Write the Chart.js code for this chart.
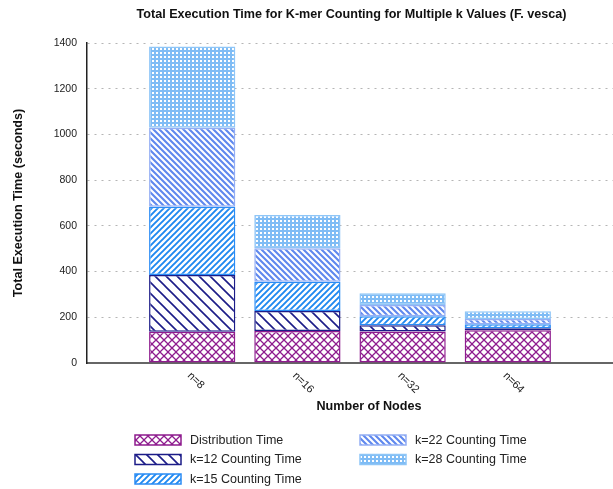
<!DOCTYPE html>
<html>
<head>
<meta charset="utf-8">
<title>K-mer counting time</title>
<script src="https://cdn.jsdelivr.net/npm/chart.js@4.4.1/dist/chart.umd.min.js"></script>
<style>
  body { margin: 0; background: #fff; }
  #wrap { width: 613px; height: 489px; }
</style>
</head>
<body>
<div id="wrap"><canvas id="myChart" width="613" height="489"></canvas></div>
<script>
// data
const nodes = ["n=8", "n=16", "n=32", "n=64"];
const distTime = [137, 140, 138, 143];
const k12Time = [248, 87, 27, 9];
const k15Time = [299, 129, 39, 17];
const k22Time = [345, 146, 50, 24];
const k28Time = [356, 145, 51, 33];
const yTicks = [0, 200, 400, 600, 800, 1000, 1200, 1400];

const seriesNames = ["Distribution Time", "k=12 Counting Time", "k=15 Counting Time", "k=22 Counting Time", "k=28 Counting Time"];

const FONT = "'Liberation Sans', Arial, sans-serif";
const ctx = document.getElementById('myChart');
const c2d = ctx.getContext('2d');

// small tiles for the hatch fills
function makeTile(size, draw){
  const t = document.createElement('canvas');
  t.width = size; t.height = size;
  const g = t.getContext('2d');
  g.fillStyle = '#fff';
  g.fillRect(0, 0, size, size);
  draw(g, size);
  return c2d.createPattern(t, 'repeat');
}

function slashTile(color, size, lw, back){
  return makeTile(size, (g, s) => {
    g.strokeStyle = color;
    g.lineWidth = lw;
    g.beginPath();
    if (back) {
      g.moveTo(-1, -1); g.lineTo(s + 1, s + 1);
      g.moveTo(-1, s - 1); g.lineTo(1, s + 1);
      g.moveTo(s - 1, -1); g.lineTo(s + 1, 1);
    } else {
      g.moveTo(-1, s + 1); g.lineTo(s + 1, -1);
      g.moveTo(-1, 1); g.lineTo(1, -1);
      g.moveTo(s - 1, s + 1); g.lineTo(s + 1, s - 1);
    }
    g.stroke();
  });
}

const crossFill = makeTile(8, (g, s) => {
  g.strokeStyle = '#8e1c8e';
  g.lineWidth = 1.3;
  g.beginPath();
  g.moveTo(-1, -1); g.lineTo(s + 1, s + 1);
  g.moveTo(-1, s + 1); g.lineTo(s + 1, -1);
  g.stroke();
});
const k12Fill = slashTile('#1c1c88', 11, 1.6, true);
const k15Fill = slashTile('#1e88f0', 6, 1.9, false);
const k22Fill = slashTile('#5f88ee', 6, 2.1, true);
const k28Fill = makeTile(4, (g, s) => {
  g.fillStyle = '#7fbcf5';
  g.fillRect(0, 0, s, s);
  g.fillStyle = '#fff';
  g.fillRect(0, 0, 2, 2);
});

const fills = [crossFill, k12Fill, k15Fill, k22Fill, k28Fill];
const borders = ['#8e1c8e', '#1c1c88', '#2a8cf5', '#94aef4', '#8fc6f7'];
const values = [distTime, k12Time, k15Time, k22Time, k28Time];

// one empty slot each side, like the reference axis
const labels = [''].concat(nodes, ['']);
function pad(arr){ return [null].concat(arr, [null]); }

const datasets = values.map((v, i) => ({
  label: seriesNames[i],
  data: pad(v),
  backgroundColor: fills[i],
  borderColor: borders[i],
  borderWidth: 1.5,
  borderSkipped: false,
  categoryPercentage: 1,
  barPercentage: 0.82
}));

const extras = {
  id: 'extras',
  afterDraw(chart){
    const g = chart.ctx;
    const area = chart.chartArea;
    const xs = chart.scales.x;
    g.save();
    // title
    g.fillStyle = '#111';
    g.font = 'bold 12.6px ' + FONT;
    g.textAlign = 'center';
    g.textBaseline = 'middle';
    g.fillText('Total Execution Time for K-mer Counting for Multiple k Values (F. vesca)', 351.5, 15);
    // x title
    g.fillText('Number of Nodes', 369, 407);
    // rotated tick labels
    g.font = '11px ' + FONT;
    g.fillStyle = '#222';
    g.textAlign = 'left';
    nodes.forEach((n, i) => {
      const x = xs.getPixelForValue(i + 1);
      g.save();
      g.translate(x - 3, area.bottom + 11);
      g.rotate(Math.PI / 4);
      g.fillText(n, 0, 0);
      g.restore();
    });
    // legend, two columns
    const colX = [135, 360];
    const rowY = [435, 454.5, 474];
    g.font = '12.5px ' + FONT;
    g.textBaseline = 'middle';
    seriesNames.forEach((name, i) => {
      const x = colX[Math.floor(i / 3)];
      const y = rowY[i % 3];
      g.fillStyle = fills[i];
      g.fillRect(x, y, 46, 10);
      g.strokeStyle = borders[i];
      g.lineWidth = 1.5;
      g.strokeRect(x, y, 46, 10);
      g.fillStyle = '#222';
      g.fillText(name, x + 55, y + 5.5);
    });
    g.restore();
  }
};

new Chart(ctx, {
  type: 'bar',
  data: { labels: labels, datasets: datasets },
  options: {
    responsive: false,
    animation: false,
    layout: { padding: { top: 43, left: 4, right: 0, bottom: 0 } },
    plugins: {
      legend: { display: false },
      title: { display: false },
      tooltip: { enabled: false }
    },
    scales: {
      x: {
        stacked: true,
        offset: false,
        grid: { display: false, drawTicks: false },
        border: { display: true, color: '#666', width: 2 },
        ticks: { display: false },
        afterFit(scale){ scale.height = 126; }
      },
      y: {
        stacked: true,
        min: 0,
        max: 1400,
        afterBuildTicks(scale){ scale.ticks = yTicks.map(v => ({ value: v })); },
        grid: { color: '#b5b5b5', lineWidth: 1, drawTicks: false },
        border: { display: true, color: '#222', width: 1.5, dash: [2, 5] },
        ticks: {
          padding: 10,
          color: '#222',
          font: { family: FONT, size: 10.5 },
          callback: v => String(v)
        },
        title: {
          display: true,
          text: 'Total Execution Time (seconds)',
          color: '#111',
          font: { family: FONT, size: 12.6, weight: 'bold' },
          padding: { top: 7, bottom: 0 }
        },
        afterFit(scale){ scale.width = 83; }
      }
    }
  },
  plugins: [extras]
});
</script>
</body>
</html>
